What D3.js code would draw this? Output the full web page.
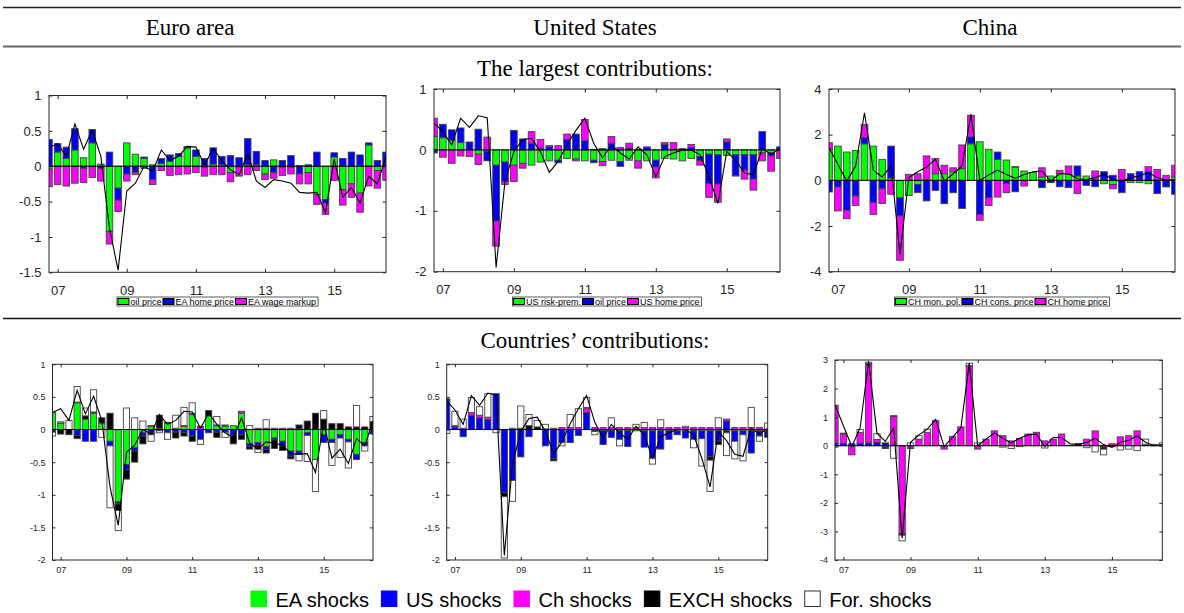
<!DOCTYPE html>
<html>
<head>
<meta charset="utf-8">
<script src="https://cdn.jsdelivr.net/npm/d3@7"></script>
<style>
  body { margin: 0; background: #fff; }
  svg { display: block; }
</style>
</head>
<body>
<svg id="fig" width="1184" height="613"></svg>
<script>
// Quarterly observations, 2006Q4 .. 2016Q3 (40 quarters)
const quarters = d3.range(40);
const xTickIndex = [1, 9, 17, 25, 33];
const xTickLabels = ["07", "09", "11", "13", "15"];

const columnTitles = ["Euro area", "United States", "China"];
const rowTitles = ["The largest contributions:", "Countries\u2019 contributions:"];

// ---- Observed inflation (black line) ----
const eaLine = [0.26, 0.32, 0.14, 0.60, 0.24, 0.51, 0.14, -0.88, -1.47, -0.35, -0.24, 0.00, -0.07, 0.23, 0.08, 0.14, 0.28, 0.27, 0.02, 0.25, 0.08, -0.05, -0.12, 0.18, -0.21, -0.30, -0.19, -0.21, -0.24, -0.37, -0.38, -0.37, -0.66, 0.10, -0.44, -0.30, -0.52, -0.14, -0.25, 0.14];
const usLine = [0.44, 0.30, 0.08, 0.52, 0.37, 0.56, 0.53, -1.93, -0.52, -0.03, 0.17, 0.19, -0.03, -0.37, -0.19, 0.09, 0.32, 0.52, 0.11, -0.13, 0.08, -0.05, -0.15, 0.05, -0.08, -0.44, -0.11, -0.05, 0.00, 0.00, -0.08, -0.44, -0.88, -0.03, -0.17, -0.38, -0.41, 0.02, -0.07, 0.02];
const chLine = [1.43, 0.70, -0.03, 0.63, 2.96, 0.44, 0.15, 0.63, -3.24, 0.12, 0.38, 0.58, 0.92, -0.03, 0.29, 0.63, 2.89, 0.00, 0.23, 0.45, 0.26, 0.09, 0.26, 0.38, 0.41, -0.03, 0.29, 0.29, 0.07, 0.04, 0.12, 0.26, 0.04, -0.06, 0.12, 0.19, 0.34, 0.12, 0.00, 0.04];

// ---- Largest contributions: Euro area ----
const eaOilPrice = [-0.04, 0.20, 0.11, 0.23, 0.12, 0.33, 0.03, -0.92, -0.31, 0.33, 0.17, 0.11, 0.02, 0.04, 0.07, 0.14, 0.26, 0.14, -0.02, 0.03, 0.02, -0.09, -0.02, 0.02, 0.02, -0.11, 0.09, -0.02, -0.02, 0.01, -0.09, -0.40, -0.47, 0.13, -0.33, -0.25, -0.38, 0.30, -0.06, 0.00];
const eaHomePrice = [0.38, 0.12, 0.16, 0.30, -0.03, 0.19, -0.03, 0.20, -0.17, -0.11, -0.09, 0.02, -0.19, 0.07, 0.09, 0.04, 0.02, 0.09, 0.11, 0.23, 0.12, 0.15, 0.12, 0.37, 0.19, 0.08, -0.09, 0.08, 0.15, -0.11, 0.02, 0.20, -0.05, 0.06, 0.11, 0.20, 0.16, 0.03, 0.08, 0.20];
const eaWageMarkup = [-0.25, -0.26, -0.28, -0.24, -0.20, -0.16, -0.18, -0.18, -0.16, -0.10, -0.03, -0.03, -0.07, -0.06, -0.13, -0.12, -0.11, -0.09, -0.12, -0.12, -0.12, -0.13, -0.12, -0.12, -0.06, -0.08, -0.08, -0.11, -0.09, -0.14, -0.16, -0.14, -0.16, -0.20, -0.22, -0.19, -0.27, -0.28, -0.25, -0.20];

// ---- Largest contributions: United States ----
const usRiskPrem = [0.22, 0.20, 0.16, 0.12, 0.00, -0.07, -0.02, -0.25, -0.20, -0.25, -0.22, -0.25, -0.20, -0.18, -0.17, -0.14, -0.15, -0.18, -0.17, -0.19, -0.17, -0.19, -0.17, -0.18, -0.18, -0.17, -0.14, -0.15, -0.18, -0.14, -0.11, -0.07, -0.08, -0.09, -0.08, -0.08, -0.08, -0.05, -0.05, -0.02];
const usOilPrice = [-0.05, 0.22, 0.17, 0.24, 0.13, 0.34, -0.16, -0.92, -0.32, 0.32, 0.18, 0.11, 0.03, 0.05, -0.04, 0.17, 0.26, 0.15, -0.04, 0.02, 0.11, -0.08, 0.03, 0.01, 0.04, -0.11, 0.09, 0.01, 0.01, 0.04, -0.07, -0.48, -0.48, 0.13, -0.34, -0.25, -0.40, 0.30, -0.05, 0.05];
const usHomePrice = [0.30, -0.12, -0.22, -0.10, -0.11, -0.17, 0.21, -0.41, -0.05, -0.27, -0.08, 0.19, 0.14, 0.02, 0.07, 0.09, -0.03, 0.35, 0.01, -0.07, 0.11, 0.04, 0.08, -0.12, 0.01, -0.18, 0.03, 0.11, 0.01, 0.05, -0.07, -0.23, -0.30, 0.05, -0.01, -0.15, -0.18, -0.13, -0.25, -0.12];

// ---- Largest contributions: China ----
const chMonPol = [1.36, 1.50, 1.24, 1.31, 1.60, 1.50, 0.92, 0.10, -0.76, -0.66, -0.18, 0.05, 0.29, 0.29, 0.38, 0.51, 1.60, 1.69, 1.36, 0.92, 0.89, 0.58, 0.41, 0.34, 0.15, 0.19, 0.29, 0.26, 0.19, 0.19, 0.05, -0.15, -0.18, 0.05, -0.10, -0.10, -0.15, 0.03, 0.02, 0.15];
const chConsPrice = [-0.51, -0.29, -1.31, -0.69, 0.27, -0.98, -0.37, 1.40, -0.80, 0.00, -0.36, -0.90, -0.44, -1.02, -0.54, -1.23, 0.30, -1.49, -0.76, 0.32, -0.13, -0.50, 0.00, 0.00, -0.32, -0.10, -0.28, -0.32, 0.44, -0.22, -0.28, 0.38, 0.22, -0.54, 0.29, 0.38, 0.38, -0.58, -0.29, -0.61];
const chHomePrice = [0.29, -1.05, -0.37, -0.41, 0.58, -0.51, -0.64, -0.61, -1.94, 0.26, 0.29, 1.02, 0.67, 0.37, 0.17, 1.04, 0.95, -0.26, -0.34, -0.73, -0.41, 0.02, -0.25, 0.00, 0.40, 0.00, 0.15, 0.37, -0.58, 0.00, 0.36, 0.00, -0.19, 0.43, 0.00, 0.00, 0.22, 0.45, 0.20, 0.51];

// ---- Countries' contributions: Euro area inflation ----
const eaFromEA = [0.26, 0.09, 0.00, 0.41, 0.16, 0.25, 0.10, -0.18, -1.11, -0.54, -0.28, -0.05, 0.05, 0.02, 0.10, 0.02, 0.05, 0.23, 0.00, 0.21, 0.06, 0.05, 0.06, 0.25, -0.22, -0.20, -0.26, -0.13, -0.18, -0.33, -0.33, -0.05, -0.46, -0.08, -0.15, -0.08, -0.15, -0.38, -0.20, 0.00];
const eaFromUS = [-0.04, 0.00, 0.00, -0.09, -0.18, -0.18, 0.00, -0.07, -0.03, -0.08, -0.05, -0.05, -0.05, -0.02, -0.05, -0.04, -0.05, -0.10, -0.15, -0.05, -0.04, -0.04, -0.08, -0.08, -0.04, -0.04, -0.05, -0.03, -0.07, -0.08, -0.05, -0.04, 0.00, -0.12, -0.05, -0.05, -0.04, -0.08, -0.05, -0.07];
const eaFromCh = [0.00, 0.01, 0.00, 0.01, 0.00, 0.02, 0.00, 0.00, 0.00, 0.00, 0.00, 0.00, 0.01, 0.00, 0.01, 0.00, 0.01, 0.02, 0.03, 0.00, 0.01, 0.02, 0.00, 0.03, 0.00, 0.02, 0.02, 0.02, 0.02, 0.02, 0.01, 0.00, 0.00, 0.00, 0.00, 0.00, 0.00, 0.00, 0.00, 0.00];
const eaFromEXCH = [0.00, -0.07, -0.08, -0.05, 0.05, 0.00, 0.08, 0.25, -0.10, -0.14, -0.17, -0.12, -0.03, 0.20, 0.00, -0.09, -0.05, -0.08, 0.02, 0.08, -0.08, 0.00, -0.14, -0.07, -0.04, -0.06, -0.05, -0.13, -0.07, -0.04, 0.06, 0.13, 0.25, 0.16, 0.09, 0.09, 0.04, 0.04, 0.04, 0.12];
const eaFromFor = [-0.06, 0.02, 0.14, 0.24, 0.12, 0.34, -0.12, -0.95, -0.31, 0.33, 0.18, 0.13, -0.10, -0.03, -0.10, 0.20, 0.28, 0.16, -0.08, 0.00, 0.13, -0.08, 0.00, 0.00, 0.06, -0.05, 0.13, 0.00, 0.00, 0.00, -0.10, -0.40, -0.49, 0.13, -0.35, -0.30, -0.40, 0.33, -0.08, 0.08];

// ---- Countries' contributions: US inflation ----
const usFromEA = [0.00, 0.00, 0.00, 0.00, 0.00, 0.00, 0.00, 0.00, 0.02, 0.02, 0.00, 0.00, 0.00, 0.00, 0.00, 0.00, 0.00, 0.00, -0.01, -0.01, -0.01, -0.02, -0.02, -0.02, -0.02, -0.02, -0.02, -0.02, -0.02, -0.02, -0.02, -0.02, -0.02, -0.02, -0.02, -0.02, -0.02, -0.02, -0.02, -0.02];
const usFromUS = [0.45, 0.04, -0.11, 0.22, 0.18, 0.15, 0.55, -0.97, -0.78, -0.42, -0.11, 0.00, -0.25, -0.45, -0.20, -0.20, -0.09, 0.26, -0.02, -0.22, -0.11, -0.13, -0.24, 0.00, -0.25, -0.42, -0.28, -0.13, -0.06, -0.11, -0.13, -0.12, -0.40, -0.16, 0.13, -0.16, -0.06, -0.34, -0.08, -0.06];
const usFromCh = [0.00, 0.02, 0.02, 0.04, 0.04, 0.04, 0.00, 0.00, 0.00, 0.00, 0.00, 0.00, 0.01, 0.02, 0.03, 0.03, 0.03, 0.07, 0.03, 0.03, 0.03, 0.03, 0.03, 0.03, 0.03, 0.03, 0.03, 0.03, 0.03, 0.03, 0.03, 0.03, 0.03, 0.03, 0.03, 0.03, 0.03, 0.03, 0.03, 0.00];
const usFromEXCH = [0.02, 0.00, 0.00, 0.00, 0.00, 0.00, 0.00, -0.06, 0.00, 0.00, 0.06, 0.04, 0.00, -0.03, 0.00, 0.00, 0.00, 0.01, 0.00, 0.00, 0.00, 0.00, 0.00, 0.00, 0.00, 0.00, 0.00, 0.00, 0.00, 0.00, 0.00, 0.00, -0.05, -0.05, -0.03, 0.00, 0.00, 0.00, 0.00, -0.04];
const usFromFor = [-0.06, 0.22, 0.14, 0.23, 0.13, 0.36, -0.05, -0.94, -0.32, 0.34, 0.17, 0.10, 0.07, 0.00, -0.05, 0.20, 0.29, 0.15, -0.05, 0.00, 0.15, -0.10, 0.00, 0.05, 0.08, -0.09, 0.12, 0.00, 0.00, 0.02, -0.13, -0.42, -0.48, 0.15, -0.35, -0.27, -0.40, 0.31, -0.08, 0.10];

// ---- Countries' contributions: China inflation ----
const chFromEA = [0.00, 0.00, 0.00, 0.00, 0.00, 0.00, 0.00, 0.00, 0.00, 0.00, 0.00, 0.00, 0.00, 0.00, 0.00, 0.00, 0.00, 0.00, 0.00, 0.00, 0.00, 0.00, 0.00, 0.00, 0.00, 0.00, 0.00, 0.00, 0.00, 0.00, 0.00, 0.00, 0.00, 0.00, 0.00, 0.00, 0.00, 0.00, 0.00, 0.00];
const chFromUS = [0.10, 0.08, 0.07, 0.08, 0.10, 0.12, 0.10, 0.03, 0.00, 0.00, 0.00, 0.00, 0.00, 0.00, 0.00, 0.00, 0.00, 0.00, 0.00, 0.00, 0.00, 0.00, 0.00, 0.00, 0.00, 0.00, 0.00, 0.00, 0.00, 0.00, 0.00, 0.00, 0.00, 0.00, 0.00, 0.00, 0.00, 0.00, 0.00, 0.00];
const chFromCh = [1.32, 0.33, -0.32, 0.39, 2.74, 0.10, -0.05, 1.00, -3.07, -0.10, 0.23, 0.47, 0.88, -0.12, 0.33, 0.66, 2.80, -0.12, 0.23, 0.52, 0.35, 0.17, 0.26, 0.41, 0.47, 0.17, 0.23, 0.41, 0.02, 0.08, 0.23, 0.52, -0.05, 0.07, 0.31, 0.35, 0.52, 0.05, 0.05, 0.00];
const chFromEXCH = [0.00, 0.03, 0.00, 0.00, 0.03, 0.00, -0.05, 0.02, -0.06, 0.00, 0.00, 0.00, 0.00, 0.00, 0.00, 0.00, 0.00, 0.00, 0.00, 0.00, 0.00, 0.00, -0.03, 0.00, 0.00, 0.00, 0.00, 0.00, 0.00, 0.00, 0.00, 0.00, -0.07, 0.00, 0.00, 0.00, 0.00, 0.00, 0.00, 0.00];
const chFromFor = [-0.05, 0.00, 0.00, 0.10, 0.05, 0.20, 0.00, -0.44, -0.20, 0.10, 0.12, 0.11, 0.00, 0.00, 0.00, 0.00, 0.09, 0.10, 0.00, 0.00, -0.05, -0.10, 0.00, 0.00, 0.00, -0.08, 0.00, 0.00, 0.00, 0.00, -0.07, -0.22, -0.20, -0.03, -0.15, -0.12, -0.17, 0.18, 0.00, 0.10];

const GREEN = "#00ff00", BLUE = "#0000ff", MAGENTA = "#ff00ff", BLACK = "#000000", WHITE = "#ffffff";
const countryNames = ["EA shocks", "US shocks", "Ch shocks", "EXCH shocks", "For. shocks"];
const countryColors = [GREEN, BLUE, MAGENTA, BLACK, WHITE];

const svg = d3.select("#fig");
const SERIF = "'Liberation Serif','Times New Roman',Times,serif";
const SANS = "'Liberation Sans',Arial,Helvetica,sans-serif";
const AXIS = "#262626";

// ---- header rules and titles ----
svg.append("line").attr("x1", 3).attr("x2", 1181).attr("y1", 7.5).attr("y2", 7.5)
  .attr("stroke", "#222").attr("stroke-width", 1.3);
svg.append("line").attr("x1", 3).attr("x2", 1181).attr("y1", 46.5).attr("y2", 46.5)
  .attr("stroke", "#666").attr("stroke-width", 2);
svg.append("line").attr("x1", 3).attr("x2", 1181).attr("y1", 318.5).attr("y2", 318.5)
  .attr("stroke", "#111").attr("stroke-width", 1.3);

const titleX = [190, 595, 990];
const TITLE_FS = 23;
columnTitles.forEach((t, k) => {
  svg.append("text").attr("x", titleX[k]).attr("y", 35).attr("text-anchor", "middle")
    .attr("font-family", SERIF).attr("font-size", TITLE_FS).attr("fill", "#000").text(t);
});
svg.append("text").attr("x", 595).attr("y", 76).attr("text-anchor", "middle")
  .attr("font-family", SERIF).attr("font-size", TITLE_FS).text(rowTitles[0]);
svg.append("text").attr("x", 595).attr("y", 348).attr("text-anchor", "middle")
  .attr("font-family", SERIF).attr("font-size", TITLE_FS).text(rowTitles[1]);

// ---- panel definitions ----
const panels = [
  { box: [49, 386, 95.5, 272.3], domain: [-1.5, 1], yTicks: [-1.5, -1, -0.5, 0, 0.5, 1],
    series: [eaOilPrice, eaHomePrice, eaWageMarkup], colors: [GREEN, BLUE, MAGENTA], line: eaLine,
    legend: ["oil price", "EA home price", "EA wage markup"], font: 13, xLabelGap: 19 },
  { box: [434, 780, 89, 271.7], domain: [-2, 1], yTicks: [-2, -1, 0, 1],
    series: [usRiskPrem, usOilPrice, usHomePrice], colors: [GREEN, BLUE, MAGENTA], line: usLine,
    legend: ["US risk-prem.", "oil price", "US home price"], font: 13, xLabelGap: 19 },
  { box: [829, 1175, 89, 271.7], domain: [-4, 4], yTicks: [-4, -2, 0, 2, 4],
    series: [chMonPol, chConsPrice, chHomePrice], colors: [GREEN, BLUE, MAGENTA], line: chLine,
    legend: ["CH mon. pol.", "CH cons. price", "CH home price"], font: 13, xLabelGap: 19 },
  { box: [52.5, 373, 364.3, 560], domain: [-2, 1], yTicks: [-2, -1.5, -1, -0.5, 0, 0.5, 1],
    series: [eaFromEA, eaFromUS, eaFromCh, eaFromEXCH, eaFromFor], colors: countryColors, line: eaLine,
    legend: null, font: 9, xLabelGap: 13 },
  { box: [446.7, 767.7, 364.3, 560], domain: [-2, 1], yTicks: [-2, -1.5, -1, -0.5, 0, 0.5, 1],
    series: [usFromEA, usFromUS, usFromCh, usFromEXCH, usFromFor], colors: countryColors, line: usLine,
    legend: null, font: 9, xLabelGap: 13 },
  { box: [835, 1162.3, 360, 560], domain: [-4, 3], yTicks: [-4, -3, -2, -1, 0, 1, 2, 3],
    series: [chFromEA, chFromUS, chFromCh, chFromEXCH, chFromFor], colors: countryColors, line: chLine,
    legend: null, font: 9, xLabelGap: 13 }
];

// Matlab-style stacking: positives pile up from zero, negatives pile down from zero
function stackBars(seriesList) {
  const out = [];
  quarters.forEach(i => {
    let pos = 0, neg = 0;
    seriesList.forEach((s, k) => {
      const v = s[i];
      if (v === 0) return;
      let a, b;
      if (v > 0) { a = pos; pos += v; b = pos; } else { a = neg; neg += v; b = neg; }
      out.push({ i, k, a, b });
    });
  });
  return out;
}

panels.forEach((p, pi) => {
  const [x0, x1, yTop, yBot] = p.box;
  const xs = d3.scaleLinear().domain([0, quarters.length - 1]).range([x0, x1]);
  const ys = d3.scaleLinear().domain(p.domain).range([yBot, yTop]);
  const step = xs(1) - xs(0);
  const bw = step * 0.8 - 0.4;
  const g = svg.append("g");

  const clipId = "clip" + pi;
  svg.append("clipPath").attr("id", clipId).append("rect")
    .attr("x", x0).attr("y", yTop).attr("width", x1 - x0).attr("height", yBot - yTop);

  const plot = g.append("g").attr("clip-path", `url(#${clipId})`);

  plot.selectAll("rect.bar").data(stackBars(p.series)).join("rect")
    .attr("class", "bar")
    .attr("x", d => xs(d.i) - bw / 2)
    .attr("width", bw)
    .attr("y", d => ys(Math.max(d.a, d.b)))
    .attr("height", d => Math.abs(ys(d.a) - ys(d.b)))
    .attr("fill", d => p.colors[d.k])
    .attr("stroke", "#444").attr("stroke-width", 0.9);

  // zero baseline
  plot.append("line").attr("x1", x0).attr("x2", x1).attr("y1", ys(0)).attr("y2", ys(0))
    .attr("stroke", "#000").attr("stroke-width", 1);

  // observed series
  plot.append("path").datum(p.line)
    .attr("d", d3.line().x((d, i) => xs(i)).y(d => ys(d)))
    .attr("fill", "none").attr("stroke", "#000").attr("stroke-width", 1.1);

  // axes box with inward ticks on all sides
  const tl = pi < 3 ? 3.5 : 3;
  g.append("rect").attr("x", x0).attr("y", yTop).attr("width", x1 - x0).attr("height", yBot - yTop)
    .attr("fill", "none").attr("stroke", AXIS).attr("stroke-width", 1);

  const yAxisL = d3.axisLeft(ys).tickValues(p.yTicks).tickSize(-tl).tickPadding(4 + tl).tickFormat(d => String(d));
  const yAxisR = d3.axisRight(ys).tickValues(p.yTicks).tickSize(-tl).tickFormat("");
  const xAxisB = d3.axisBottom(xs).tickValues(xTickIndex).tickSize(-tl).tickPadding(p.xLabelGap - 9 + tl)
    .tickFormat((d, i) => xTickLabels[i]);
  const xAxisT = d3.axisTop(xs).tickValues(xTickIndex).tickSize(-tl).tickFormat("");

  [[yAxisL, `translate(${x0},0)`], [yAxisR, `translate(${x1},0)`],
   [xAxisB, `translate(0,${yBot})`], [xAxisT, `translate(0,${yTop})`]].forEach(([ax, tr]) => {
    const a = g.append("g").attr("transform", tr).call(ax);
    a.select(".domain").remove();
    a.selectAll(".tick line").attr("stroke", AXIS).attr("stroke-width", 1);
    a.selectAll(".tick text").attr("fill", AXIS).attr("font-family", SANS).attr("font-size", p.font);
  });

  // small legend below the top-row panels
  if (p.legend) {
    const lg = g.append("g");
    const fs = 9, swW = 11, swH = 6;
    let cx = 0;
    p.legend.forEach((name, k) => {
      lg.append("rect").attr("x", cx + 1).attr("y", -swH / 2).attr("width", swW).attr("height", swH)
        .attr("fill", p.colors[k]).attr("stroke", "#000").attr("stroke-width", 1);
      const t = lg.append("text").attr("x", cx + swW + 2.5).attr("y", 3.2)
        .attr("font-family", SANS).attr("font-size", fs).attr("fill", "#000").text(name);
      cx += swW + 2.5 + t.node().getComputedTextLength() + 0.5;
    });
    const w = cx + 1.5;
    lg.insert("rect", ":first-child").attr("x", 0).attr("y", -4.5).attr("width", w).attr("height", 9)
      .attr("fill", "#fff").attr("stroke", "#333").attr("stroke-width", 0.8);
    lg.attr("transform", `translate(${(x0 + x1) / 2 - w / 2},301.5)`);
  }
});

// ---- shared legend for the countries' contributions ----
const leg = svg.append("g");
let lx = 0;
countryNames.forEach((name, k) => {
  leg.append("rect").attr("x", lx + 0.5).attr("y", -8).attr("width", 15.5).attr("height", 15.5)
    .attr("fill", countryColors[k]).attr("stroke", k === 4 ? "#333" : countryColors[k]).attr("stroke-width", 1);
  const t = leg.append("text").attr("x", lx + 25).attr("y", 7.5)
    .attr("font-family", SANS).attr("font-size", 20).attr("fill", "#000").text(name);
  lx += 25 + t.node().getComputedTextLength() + 12;
});
const legW = lx - 12;
leg.attr("transform", `translate(${591 - legW / 2},599)`);
</script>
</body>
</html>
